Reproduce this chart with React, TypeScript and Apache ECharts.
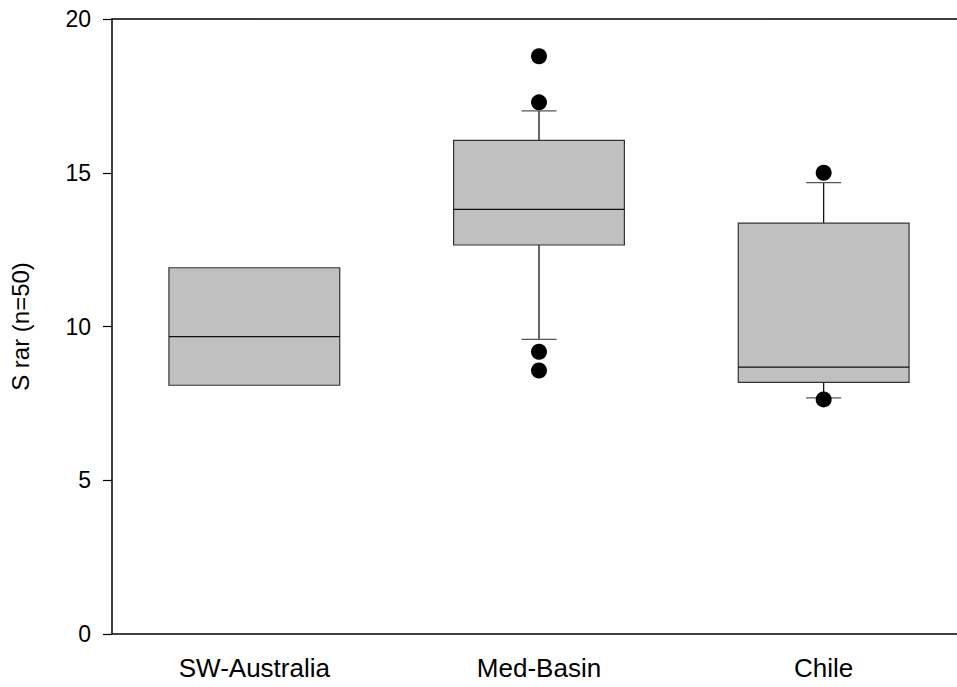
import React, { useEffect, useRef } from "react";
import * as echarts from "echarts";

const categories = ["SW-Australia", "Med-Basin", "Chile"];
const whiskerLow = [8.09, 9.58, 7.68];
const q1 = [8.09, 12.65, 8.18];
const median = [9.67, 13.81, 8.68];
const q3 = [11.91, 16.05, 13.36];
const whiskerHigh = [11.91, 17.01, 14.68];
const outliersMed = [18.79, 17.29, 9.18, 8.57];
const outliersChile = [15.0, 7.63];
const yTicks = { min: 0, max: 20, interval: 5 };
const yName = "S rar (n=50)";

const FONT = "Liberation Sans, Arial, sans-serif";

export default function App() {
  const ref = useRef<HTMLDivElement>(null);
  useEffect(() => {
    if (!ref.current) return;
    const chart = echarts.init(ref.current, undefined, { renderer: "svg" });
    const boxData = categories.map((_, i) => [i, whiskerLow[i], q1[i], median[i], q3[i], whiskerHigh[i]]);
    const outlierData: number[][] = [
      ...outliersMed.map((v) => [1, v]),
      ...outliersChile.map((v) => [2, v]),
    ];
    chart.setOption({
      animation: false,
      backgroundColor: "#fff",
      grid: {
        left: 109,
        top: 19,
        bottom: 53,
        right: 10,
        show: false,
        containLabel: false,
      },
      xAxis: [
        {
          type: "category",
          data: categories,
          boundaryGap: true,
          axisLine: { lineStyle: { color: "#000", width: 1.5 } },
          axisTick: { alignWithLabel: true, length: 9, lineStyle: { color: "#000", width: 1.2 } },
          axisLabel: { color: "#000", fontSize: 26, fontFamily: FONT, margin: 21 },
          splitLine: { show: false },
        },
        {
          type: "category",
          data: categories,
          position: "top",
          boundaryGap: true,
          axisLine: { show: true, lineStyle: { color: "#000", width: 1.5 } },
          axisTick: { show: false },
          axisLabel: { show: false },
          splitLine: { show: false },
        },
      ],
      yAxis: {
        type: "value",
        min: yTicks.min,
        max: yTicks.max,
        interval: yTicks.interval,
        name: yName,
        nameLocation: "middle",
        nameGap: 80,
        nameTextStyle: { color: "#000", fontSize: 24, fontFamily: FONT },
        axisLine: { show: true, lineStyle: { color: "#000", width: 1.5 } },
        axisTick: { show: true, length: 9, lineStyle: { color: "#000", width: 1.2 } },
        axisLabel: { color: "#000", fontSize: 23, fontFamily: FONT, margin: 21 },
        splitLine: { show: false },
      },
      series: [
        {
          type: "custom",
          data: boxData,
          xAxisIndex: 0,
          encode: { x: 0, y: [1, 2, 3, 4, 5] },
          renderItem: (params: any, api: any) => {
            const x = api.value(0);
            const band = api.size([1, 0])[0];
            const bw = band * 0.6;
            const cw = band * 0.123;
            const pLow = api.coord([x, api.value(1)]);
            const pQ1 = api.coord([x, api.value(2)]);
            const pMed = api.coord([x, api.value(3)]);
            const pQ3 = api.coord([x, api.value(4)]);
            const pHigh = api.coord([x, api.value(5)]);
            const cx = pMed[0];
            const children: any[] = [];
            if (api.value(5) > api.value(4)) {
              children.push({
                type: "line",
                shape: { x1: cx, y1: pQ3[1], x2: cx, y2: pHigh[1] },
                style: { stroke: "#000", lineWidth: 1.2 },
              });
              children.push({
                type: "line",
                shape: { x1: cx - cw / 2, y1: pHigh[1], x2: cx + cw / 2, y2: pHigh[1] },
                style: { stroke: "#555", lineWidth: 1.2 },
              });
            }
            if (api.value(1) < api.value(2)) {
              children.push({
                type: "line",
                shape: { x1: cx, y1: pQ1[1], x2: cx, y2: pLow[1] },
                style: { stroke: "#000", lineWidth: 1.2 },
              });
              children.push({
                type: "line",
                shape: { x1: cx - cw / 2, y1: pLow[1], x2: cx + cw / 2, y2: pLow[1] },
                style: { stroke: "#555", lineWidth: 1.2 },
              });
            }
            children.push({
              type: "rect",
              shape: { x: cx - bw / 2, y: pQ3[1], width: bw, height: pQ1[1] - pQ3[1] },
              style: { fill: "#c0c0c0", stroke: "#333", lineWidth: 1.2 },
            });
            children.push({
              type: "line",
              shape: { x1: cx - bw / 2, y1: pMed[1], x2: cx + bw / 2, y2: pMed[1] },
              style: { stroke: "#111", lineWidth: 1.2 },
            });
            return { type: "group", children };
          },
          z: 2,
        },
        {
          type: "scatter",
          xAxisIndex: 0,
          data: outlierData,
          symbol: "circle",
          symbolSize: 16,
          itemStyle: { color: "#000", opacity: 1 },
          z: 3,
        },
      ],
    });
    return () => chart.dispose();
  }, []);
  return (
    <div
      ref={ref}
      style={{ position: "fixed", left: 0, top: 0, width: 976, height: 687, background: "#fff" }}
    />
  );
}
